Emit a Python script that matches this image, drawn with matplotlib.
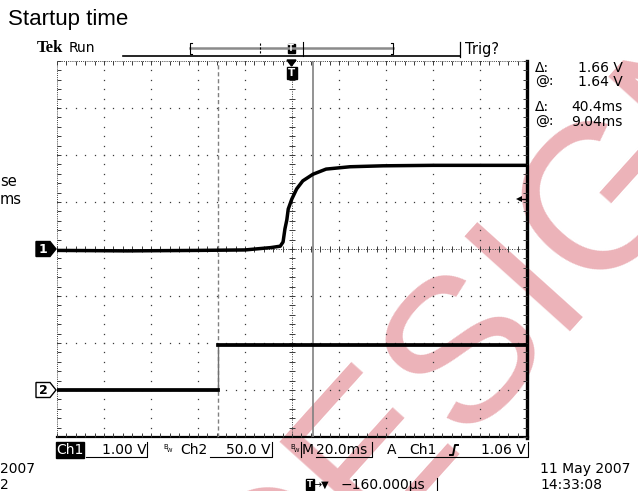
import numpy as np
import matplotlib
matplotlib.use("Agg")
import matplotlib.pyplot as plt
from matplotlib.patches import Polygon, Rectangle

# ---- scope data (time in ms, volts) ----
ch1_t = [-100, -70, -40, -20, -9, -5, -3.8, -3.0, -2.2, -1.6, -0.1, 2.0, 4.6, 8.9, 14.5, 24.7, 38.7, 60, 100]
ch1_v = [-0.03, -0.04, -0.03, -0.02, 0.03, 0.06, 0.15, 0.43, 0.62, 0.85, 1.06, 1.28, 1.45, 1.59, 1.70, 1.75, 1.77, 1.78, 1.78]
ch2_t = [-100, -31.4, -31.4, 100]
ch2_v = [0, 0, 48, 48]
ch1_scale, ch2_scale = 1.0, 50.0     # V/div
ch1_pos, ch2_pos = 0.0, -3.0         # div
cursor_t = [-31.36, 9.04]
trig_level = 1.06

W, H = 638, 491
L, R, T, B = 57, 527, 61, 437
fig = plt.figure(figsize=(W / 100, H / 100), dpi=100)

# watermark behind everything
bg = fig.add_axes([0, 0, 1, 1], zorder=0)
bg.set_xlim(0, W); bg.set_ylim(H, 0); bg.axis("off")
bg.text(494, 318, "DESIGN", rotation=48, fontsize=148, fontweight="normal",
        family="Liberation Sans", color="#ecb3b9", ha="center", va="center")

ax = fig.add_axes([L / W, 1 - B / H, (R - L) / W, (B - T) / H], zorder=1)
ax.patch.set_alpha(0)
ax.set_xlim(-100, 100); ax.set_ylim(-4, 4); ax.axis("off")

gc = "#3a3a3a"
mx = np.arange(-100, 100.01, 4)
my = np.arange(-4, 4.01, 0.2)
for gx in [-80, -60, -40, -20, 20, 40, 60, 80]:
    ax.plot([gx] * len(my), my, ls="none", marker="s", ms=0.9, mew=0, color=gc)
for gy in [-3, -2, -1, 1, 2, 3]:
    ax.plot(mx, [gy] * len(mx), ls="none", marker="s", ms=0.9, mew=0, color=gc)
# centre crosshair
ax.plot([-100, 100], [0, 0], color=gc, lw=0.7, ls=(0, (1, 1.5)))
ax.plot([0, 0], [-4, 4], color=gc, lw=0.7, ls=(0, (1, 1.5)))
ax.plot(mx, [0] * len(mx), ls="none", marker="|", ms=4, mew=0.7, color=gc)
ax.plot([0] * len(my), my, ls="none", marker="_", ms=4, mew=0.7, color=gc)
# border
ax.plot([-100, 100], [4, 4], color=gc, lw=0.7, ls=(0, (1, 1.2)), clip_on=False)
ax.plot(mx, [4] * len(mx), ls="none", marker=3, ms=3, mew=0.7, color=gc, clip_on=False)
ax.plot([-100, -100], [-4, 4], color=gc, lw=0.7, ls=(0, (1, 1.2)), clip_on=False)
ax.plot([-100] * len(my), my, ls="none", marker=1, ms=3, mew=0.7, color=gc, clip_on=False)
ax.plot([-100, 100.6], [-4, -4], color="black", lw=1.6, clip_on=False)
ax.plot(mx, [-4] * len(mx), ls="none", marker=2, ms=3, mew=0.7, color=gc, clip_on=False)
ax.plot([100, 100], [-4.02, 4], color="black", lw=2.4, clip_on=False)
ax.plot([100] * len(my), my, ls="none", marker=0, ms=3, mew=0.7, color=gc, clip_on=False)

# cursors
ax.axvline(cursor_t[0], color="#808080", lw=1.0, ls=(0, (3, 2)))
ax.axvline(cursor_t[1], color="#808080", lw=1.2)

# traces
y1 = ch1_pos + np.array(ch1_v) / ch1_scale
ax.plot(ch1_t, y1, color="black", lw=2.5, solid_joinstyle="round")
y2 = ch2_pos + np.array(ch2_v) / ch2_scale
ax.plot(ch2_t, y2, color="#707070", lw=1.0)
ax.plot(ch2_t[:2], y2[:2], color="black", lw=2.7)
ax.plot(ch2_t[2:], y2[2:], color="black", lw=2.7)

# trigger level arrow
ax.plot([96.5, 99], [trig_level] * 2, color="black", lw=1.0)
ax.plot([96.5], [trig_level], marker="<", ms=4, color="black", mew=0)

# ---- screen annotations (pixel layout) ----
d = fig.add_axes([0, 0, 1, 1], zorder=2)
d.set_xlim(0, W); d.set_ylim(H, 0); d.axis("off")
sans = "DejaVu Sans"

d.text(8, 19, "Startup time", fontsize=16, family="Liberation Sans", va="center")
d.text(37, 48, "Tek", fontsize=12, family="Liberation Serif", fontweight="bold", va="center")
d.text(69, 48, "Run", fontsize=10, family=sans, va="center")

# record bar
d.plot([123, 460], [56, 56], color="black", lw=1.2)
d.plot([190, 393], [48, 48], color="#8a8a8a", lw=1.8)
for bx, s in [(190, 1), (393, -1)]:
    d.plot([bx + 2 * s, bx, bx, bx + 2 * s], [43, 43, 54, 54], color="black", lw=0.8)
d.plot([260, 260], [43, 54], color="black", lw=0.8, ls=(0, (2, 1.5)))
d.plot([303, 303], [42, 56], color="black", lw=0.8)
d.plot([460, 460], [42, 57], color="black", lw=0.9)
d.text(465, 49, "Trig?", fontsize=10.5, family=sans, va="center")
# small trigger T in record bar
d.add_patch(Rectangle((287.5, 44), 7, 9, color="black"))
d.text(291, 48.5, "T", fontsize=6, color="white", ha="center", va="center", fontweight="bold")
# trigger position marker on graticule
d.add_patch(Polygon([[287, 60], [296, 60], [291.5, 66]], color="black"))
d.add_patch(Rectangle((286.5, 67), 10, 12, color="black"))
d.text(291.5, 73, "T", fontsize=7.5, color="white", ha="center", va="center", fontweight="bold")

# channel markers
yc = (T + B) / 2
for pos, lab, fill in [(ch1_pos, "1", "black"), (ch2_pos, "2", "white")]:
    py = yc - pos * 47
    d.add_patch(Polygon([[36, py - 7.5], [50, py - 7.5], [56, py], [50, py + 7.5], [36, py + 7.5]],
                        facecolor=fill, edgecolor="black", lw=1.0))
    d.text(43, py + 0.5, lab, fontsize=9, color="white" if fill == "black" else "black",
           ha="center", va="center", fontweight="bold", family=sans)

# left cropped labels
d.text(0, 181, "se", fontsize=10.5, family=sans, va="center")
d.text(0, 199, "ms", fontsize=10.5, family=sans, va="center")

# cursor readouts
ro = [("Δ:", "1.66 V", 68), ("@:", "1.64 V", 82), ("Δ:", "40.4ms", 107), ("@:", "9.04ms", 122)]
for a, b, yy in ro:
    d.text(535, yy, a, fontsize=10, family=sans, va="center")
    d.text(623, yy, b, fontsize=10, family=sans, va="center", ha="right")

# status bar
sy = 450
d.add_patch(Rectangle((56, 442), 28, 16, color="black"))
d.text(70, sy, "Ch1", fontsize=10, family=sans, color="white", ha="center", va="center")
d.text(102, sy, "1.00 V", fontsize=10, family=sans, va="center")
d.plot([86, 147, 147], [457, 457, 442], color="black", lw=0.8)
d.text(163, sy - 3, "B", fontsize=5, family=sans, va="center")
d.text(167, sy + 1, "W", fontsize=4, family=sans, va="center")
d.text(180, sy, "Ch2", fontsize=10, family=sans, va="center")
d.text(226, sy, "50.0 V", fontsize=10, family=sans, va="center")
d.plot([210, 272, 272], [457, 457, 442], color="black", lw=0.8)
d.text(290, sy - 3, "B", fontsize=5, family=sans, va="center")
d.text(294, sy + 1, "W", fontsize=4, family=sans, va="center")
d.plot([301, 301], [442, 457], color="black", lw=0.8)
d.text(302, sy, "M", fontsize=10, family=sans, va="center")
d.text(316, sy, "20.0ms", fontsize=10, family=sans, va="center")
d.plot([316, 372, 372], [457, 457, 442], color="black", lw=0.8)
d.text(387, sy, "A", fontsize=10, family=sans, va="center")
d.text(409, sy, "Ch1", fontsize=10, family=sans, va="center")
d.plot([450, 453, 455, 458], [455, 455, 445, 445], color="black", lw=1.4)
d.text(526, sy, "1.06 V", fontsize=10, family=sans, va="center", ha="right")
d.plot([398, 528, 528], [457, 457, 442], color="black", lw=0.8)

# bottom lines
d.text(0, 469, "2007", fontsize=10, family=sans, va="center")
d.text(0, 485, "2", fontsize=10, family=sans, va="center")
d.text(540, 469, "11 May 2007", fontsize=10, family=sans, va="center")
d.text(540, 485, "14:33:08", fontsize=10, family=sans, va="center")
d.add_patch(Rectangle((306, 479), 8, 11, color="black"))
d.text(310, 484.5, "T", fontsize=6, color="white", ha="center", va="center", fontweight="bold")
d.text(314, 485, "→▼", fontsize=7, family=sans, va="center")
d.text(341, 485, "−160.000µs", fontsize=10, family=sans, va="center")
d.plot([437, 437], [478, 491], color="black", lw=0.8)

fig.savefig("out.png", dpi=100)
